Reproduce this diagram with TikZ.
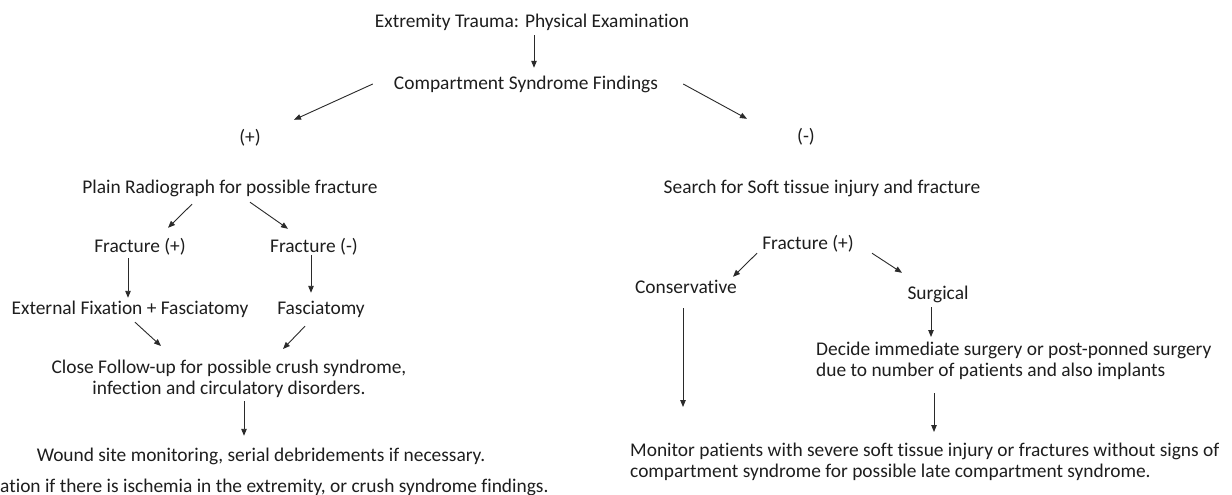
\documentclass[tikz,border=0pt]{standalone}
\usepackage{fontspec}
\setmainfont{Carlito}[Ligatures=NoCommon]
\usepackage{xcolor}
\usepackage{tikz}
\usetikzlibrary{arrows.meta,positioning,calc}
\definecolor{FlowInk}{HTML}{1E1E1E}
\definecolor{FlowLine}{HTML}{2A2A2A}

\begin{document}
\begin{tikzpicture}[x=1pt,y=-1pt,
  txt/.style={inner sep=0pt,text height=13pt,text depth=1pt,text=FlowInk,font=\fontsize{19.4}{21.5}\selectfont},
  block/.style={txt,text height=,text depth=},
  edge/.style={-{Triangle[length=7pt,width=5.5pt]},draw=FlowLine,line width=0.9pt}
]
\fill[white] (0,0) rectangle (1232,495);
\useasboundingbox (0,0) rectangle (1232,495);
% top of the tree
\node[txt] (exam) at (532,22) {Extremity Trauma: Physical Examination};
\node[txt] (comp) at (526,83) {Compartment Syndrome Findings};
\node[txt] (pos) at (250,137) {(+)};
\node[txt] (neg) at (806,136) {(-)};
% positive branch
\node[txt] (xray) at (230,187) {Plain Radiograph for possible fracture};
\node[txt] (fxpos) at (140,246) {Fracture (+)};
\node[txt] (fxneg) at (314,246) {Fracture (-)};
\node[txt] (exfix) at (130,308) {External Fixation + Fasciatomy};
\node[txt] (fasc) at (321,308) {Fasciatomy};
\node[block,align=center] (follow) at (229,379) {Close Follow-up for possible crush syndrome,\\infection and circulatory disorders.};
\node[txt] (wound) at (261,455) {Wound site monitoring, serial debridements if necessary.};
\node[txt,anchor=base west] (amput) at (0,492) {ation if there is ischemia in the extremity, or crush syndrome findings.};
% negative branch
\node[txt] (soft) at (822,187) {Search for Soft tissue injury and fracture};
\node[txt] (rfx) at (808,243) {Fracture (+)};
\node[txt] (cons) at (686,287) {Conservative};
\node[txt] (surg) at (938,293) {Surgical};
\node[block,align=left,anchor=west] (decide) at (816,361) {Decide immediate surgery or post-ponned surgery\\due to number of patients and also implants};
\node[block,align=left,anchor=west] (monit) at (630,462) {Monitor patients with severe soft tissue injury or fractures without signs of\\compartment syndrome for possible late compartment syndrome.};
% connectors
\draw[edge] ($(exam.south)+(2,6)$) -- ($(comp.north)+(8,-8)$);
\draw[edge] ($(comp.west)+(-21,1)$) -- ($(pos.north)+(44,-10)$);
\draw[edge] ($(comp.east)+(25,1)$) -- ($(neg.north)+(-59,-10)$);
\draw[edge] ($(xray.south)+(-38,10)$) -- ($(fxpos.north)+(28,-11)$);
\draw[edge] ($(xray.south)+(20,8)$) -- ($(fxneg.north)+(-26,-10)$);
\draw[edge] ($(fxpos.south)+(-12,5)$) -- ($(exfix.north)+(-2,-3)$);
\draw[edge] ($(fxneg.south)+(-3,2)$) -- ($(fasc.north)+(-10,-8)$);
\draw[edge] ($(exfix.south)+(5,7)$) -- ($(follow.center)+(-68,-33)$);
\draw[edge] ($(fasc.south)+(-16,11)$) -- ($(follow.center)+(54,-30)$);
\draw[edge] ($(follow.center)+(15,22)$) -- ($(wound.north)+(-17,-12)$);
\draw[edge] ($(rfx.south)+(-51,3)$) -- ($(cons.north)+(47,-3)$);
\draw[edge] ($(rfx.south)+(64,3)$) -- ($(surg.north)+(-36,-13)$);
\draw[edge] ($(cons.south)+(-3,14)$) -- ($(monit.west)+(53,-55)$);
\draw[edge] ($(surg.south)+(-7,7)$) -- ($(decide.west)+(115,-24)$);
\draw[edge] ($(decide.west)+(118,32)$) -- ($(monit.west)+(304,-30)$);
\end{tikzpicture}
\end{document}
